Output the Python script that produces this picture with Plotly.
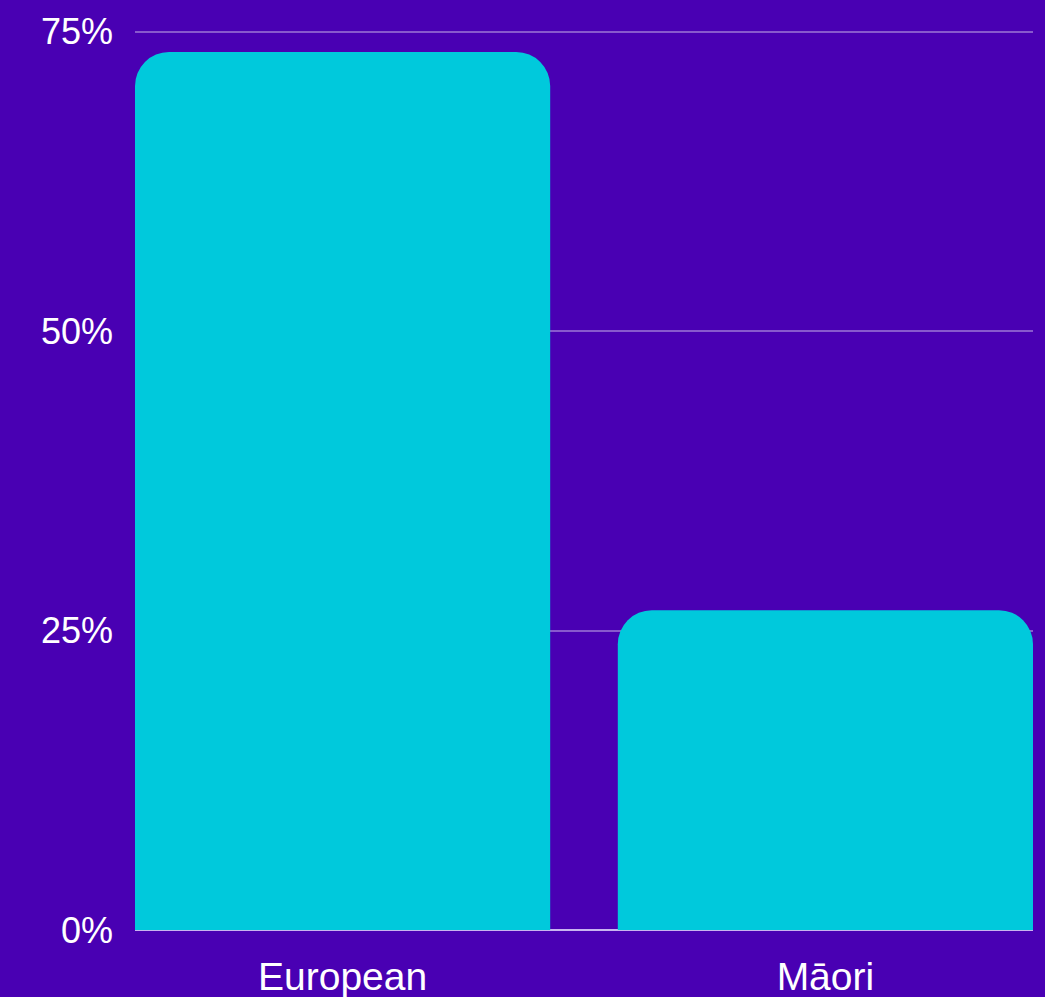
import plotly.graph_objects as go

categories = ["European", "Māori"]
values = [73.3, 26.7]
tick_vals = [0, 25, 50, 75]
tick_text = ["0%", "25%", "50%", "75%"]

bar_width = 0.86
fig = go.Figure(go.Bar(
    x=categories, y=values, width=bar_width,
    marker=dict(color="#00c9dc", line=dict(width=0)),
    hoverinfo="skip",
))
fig.update_layout(
    width=1045, height=997,
    margin=dict(l=135, r=12, t=28, b=67),
    paper_bgcolor="#4900b3", plot_bgcolor="#4900b3",
    barcornerradius=34,
    font=dict(family="Liberation Sans, Arial, sans-serif", color="#ffffff", size=36),
    showlegend=False,
)
fig.update_xaxes(
    range=[-bar_width / 2, 1 + bar_width / 2],
    showgrid=False, showline=False, ticks="", automargin=False,
    tickfont=dict(size=39), ticklabelstandoff=20,
)
fig.update_yaxes(
    range=[0, 75.3], tickvals=tick_vals, ticktext=tick_text, automargin=False,
    showgrid=True, gridcolor="rgba(255,255,255,0.35)", gridwidth=1.5,
    zeroline=True, zerolinecolor="#c8b4f0", zerolinewidth=1.5,
    showline=False, ticks="", ticklabelstandoff=21,
)
fig.write_html("out.html")
